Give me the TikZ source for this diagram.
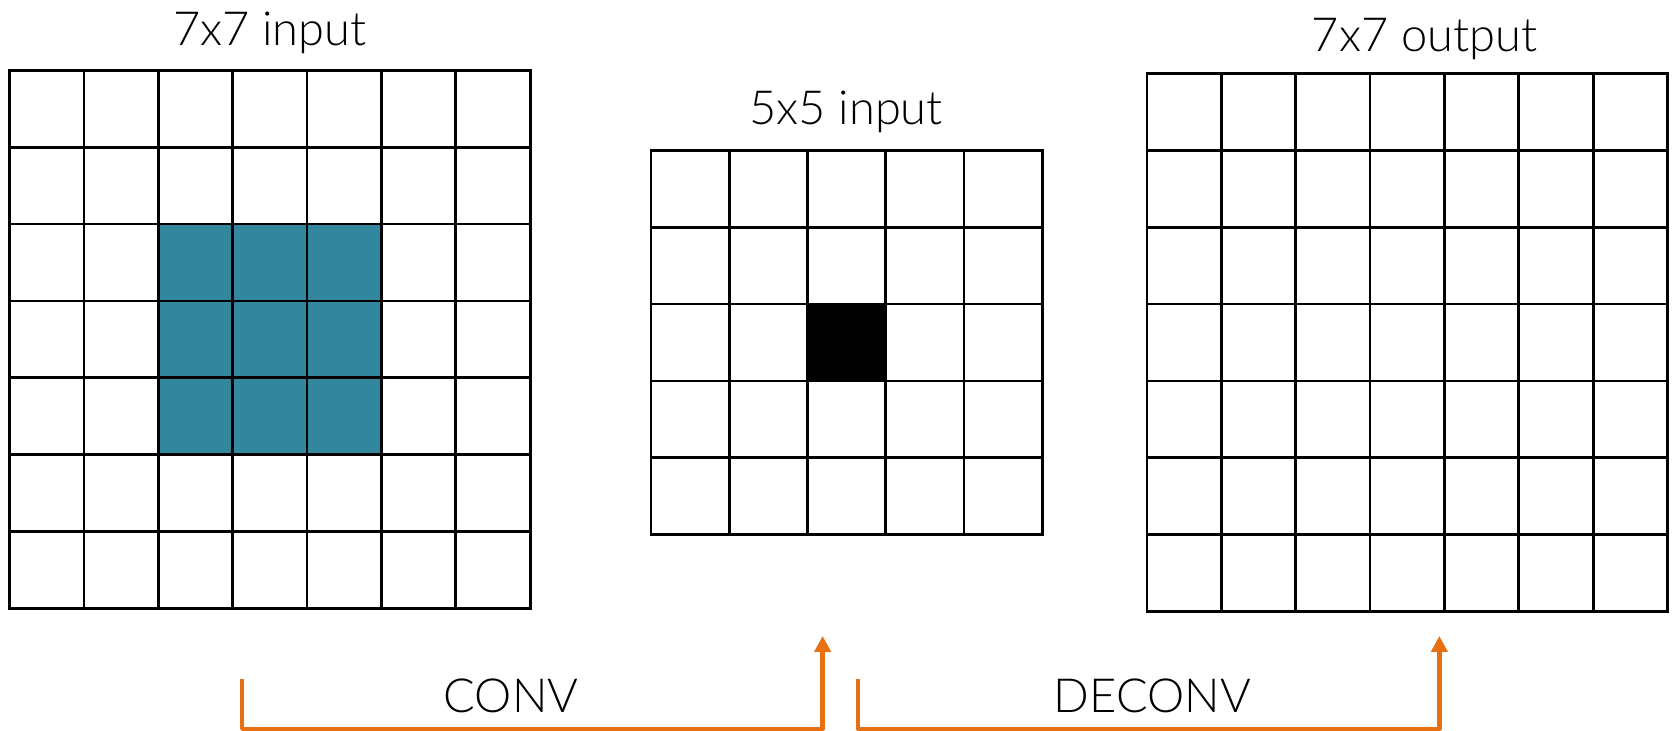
\documentclass[tikz,border=0pt]{standalone}
\usepackage{fontspec}
\setmainfont{Lato Light}
\usetikzlibrary{arrows.meta}

\definecolor{tealcell}{RGB}{50,134,158}
\definecolor{flowcol}{RGB}{230,112,18}

\begin{document}
\begin{tikzpicture}[
  x=0.5335pt, y=-0.5335pt,
  gridline/.style={draw=black, line width=1.35pt, line cap=rect},
  gridtitle/.style={font=\fontsize{23.5}{28}\selectfont, inner sep=0pt, anchor=base},
  flow/.style={draw=flowcol, line width=2.2pt, line join=round,
    -{Triangle[length=8pt,width=8pt]}}
]
  \useasboundingbox (0,0) rectangle (1568,685);

  % 7x7 input
  \fill[tealcell] (149,210) rectangle (358,426);
  \foreach \i in {0,...,7} {
    \draw[gridline] (9+\i*69.7,66) -- (9+\i*69.7,570);
    \draw[gridline] (9,66+\i*72) -- (497,66+\i*72);
  }
  \node[gridtitle] (inseven) at (253,43) {7x7 input};

  % 5x5 input
  \fill[black] (756.8,285) rectangle (830.2,357);
  \foreach \i in {0,...,5} {
    \draw[gridline] (610+\i*73.4,141) -- (610+\i*73.4,501);
    \draw[gridline] (610,141+\i*72) -- (977,141+\i*72);
  }
  \node[gridtitle] (infive) at (793,117) {5x5 input};

  % 7x7 output
  \foreach \i in {0,...,7} {
    \draw[gridline] (1075+\i*69.7,69) -- (1075+\i*69.7,573);
    \draw[gridline] (1075,69+\i*72) -- (1563,69+\i*72);
  }
  \node[gridtitle] (outseven) at (1335,48) {7x7 output};

  % arrows
  \coordinate (convfrom) at (227,636);
  \coordinate (convto) at (771,596);
  \coordinate (deconvfrom) at (804,636);
  \coordinate (deconvto) at (1349,596);
  \draw[flow] (convfrom) -- ++(0,47) -| (convto);
  \draw[flow] (deconvfrom) -- ++(0,47) -| (deconvto);
  \node[gridtitle] (convtxt) at (479,668) {CONV};
  \node[gridtitle] (deconvtxt) at (1080,668) {DECONV};
\end{tikzpicture}
\end{document}
